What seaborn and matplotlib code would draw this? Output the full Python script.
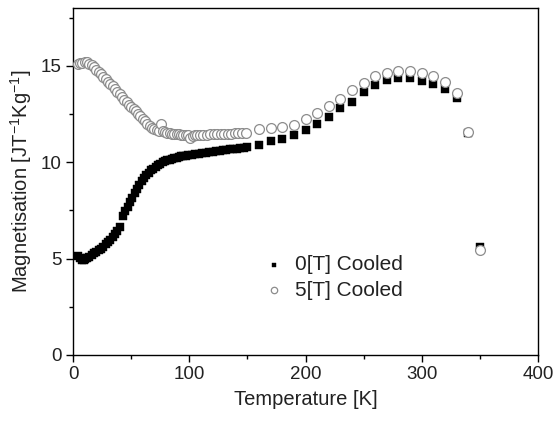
import matplotlib
matplotlib.use("Agg")
import matplotlib.pyplot as plt
from matplotlib.ticker import MultipleLocator
import seaborn as sns
import pandas as pd

# 0[T] cooled (filled squares)
temp_0T = [4.5, 6, 7.5, 9, 10.5, 12, 14, 16, 18, 20, 22, 24, 26, 28, 30, 32, 34, 36, 38, 40,
           43, 45, 47, 49, 51, 53, 55, 57, 59, 61, 63, 65, 67, 69, 71, 73, 75, 77, 79, 81,
           83, 85, 87, 89, 91, 93, 95, 97, 99, 102, 105, 108, 111, 114, 117, 120, 123, 126,
           129, 132, 135, 138, 141, 144, 147, 150,
           160, 170, 180, 190, 200, 210, 220, 230, 240, 250, 260, 270, 280, 290, 300, 310,
           320, 330, 340, 350]
mag_0T = [5.15, 5.02, 4.92, 4.94, 4.97, 5.02, 5.1, 5.18, 5.27, 5.35, 5.43, 5.52, 5.62, 5.73,
          5.84, 5.96, 6.1, 6.25, 6.42, 6.62,
          7.2, 7.45, 7.7, 7.93, 8.15, 8.38, 8.6, 8.82, 9.0, 9.17, 9.32, 9.45, 9.57, 9.67,
          9.77, 9.85, 9.93, 9.99, 10.05, 10.1, 10.14, 10.18, 10.21, 10.24, 10.27, 10.3,
          10.32, 10.34, 10.36, 10.39, 10.42, 10.45, 10.48, 10.5, 10.53, 10.55, 10.57, 10.6,
          10.62, 10.64, 10.66, 10.68, 10.7, 10.72, 10.74, 10.77,
          10.88, 11.1, 11.22, 11.4, 11.69, 12.0, 12.35, 12.81, 13.11, 13.66, 14.0, 14.25,
          14.37, 14.35, 14.23, 14.07, 13.78, 13.33, 11.49, 5.61]

# 5[T] cooled (open circles)
temp_5T = [4, 6, 8, 10, 12, 14, 16, 18, 20, 22, 24, 26, 28, 30, 32, 34, 36, 38, 40, 42, 44,
           46, 48, 50, 52, 54, 56, 58, 60, 62, 64, 66, 68, 70, 72, 74, 75.5, 77, 79, 81, 83,
           85, 87, 89, 91, 93, 95, 97, 99, 101, 103, 105, 107, 109, 112, 115, 118, 121, 124,
           127, 130, 133, 136, 139, 142, 145, 149,
           160, 170, 180, 190, 200, 210, 220, 230, 240, 250, 260, 270, 280, 290, 300, 310,
           320, 330, 340, 350]
mag_5T = [15.12, 15.14, 15.16, 15.18, 15.22, 15.12, 15.03, 14.92, 14.8, 14.68, 14.56, 14.42,
          14.3, 14.18, 14.06, 13.94, 13.8, 13.66, 13.52, 13.38, 13.25, 13.1, 12.96, 12.86,
          12.76, 12.65, 12.52, 12.38, 12.24, 12.12, 12.0, 11.9, 11.8, 11.72, 11.66, 11.62,
          11.98, 11.6, 11.56, 11.53, 11.5, 11.48, 11.46, 11.45, 11.44, 11.43, 11.42, 11.41,
          11.4, 11.26, 11.38, 11.4, 11.41, 11.42, 11.42, 11.43, 11.44, 11.44, 11.45, 11.45,
          11.46, 11.47, 11.48, 11.49, 11.5, 11.52, 11.54,
          11.7, 11.8, 11.85, 11.92, 12.25, 12.57, 12.9, 13.3, 13.73, 14.13, 14.46, 14.63,
          14.72, 14.72, 14.63, 14.47, 14.16, 13.6, 11.59, 5.44]

labels = ["0[T] Cooled", "5[T] Cooled"]
x_ticks = [0, 100, 200, 300, 400]
y_ticks = [0, 5, 10, 15]

sns.set_style("ticks")
plt.rcParams["font.family"] = ["Liberation Sans", "DejaVu Sans"]
plt.rcParams["mathtext.fontset"] = "custom"
plt.rcParams["mathtext.rm"] = "Liberation Sans"
plt.rcParams["mathtext.default"] = "regular"

TXT = "#222222"

df0 = pd.DataFrame({"T": temp_0T, "M": mag_0T})
df5 = pd.DataFrame({"T": temp_5T, "M": mag_5T})

fig = plt.figure(figsize=(5.58, 4.24), dpi=100)
ax = fig.add_axes([0.131, 0.163, 0.833, 0.818])

sns.scatterplot(data=df0, x="T", y="M", ax=ax, marker="s", s=30, color="black",
                edgecolor="black", linewidth=0.3, label=labels[0], zorder=3)
sns.scatterplot(data=df5, x="T", y="M", ax=ax, marker="o", s=50, facecolor="white",
                edgecolor="#8c8c8c", linewidth=0.9, label=labels[1], zorder=4)

ax.set_xlim(0, 400)
ax.set_ylim(0, 18)
ax.set_xticks(x_ticks)
ax.set_yticks(y_ticks)
ax.xaxis.set_minor_locator(MultipleLocator(50))
ax.yaxis.set_minor_locator(MultipleLocator(2.5))
ax.tick_params(which="major", direction="out", length=5, width=1, labelsize=13.5,
               color="black", labelcolor=TXT, top=False, right=False, pad=3)
ax.tick_params(which="minor", direction="out", length=3, width=1, color="black",
               top=False, right=False)
for sp in ax.spines.values():
    sp.set_visible(True)
    sp.set_linewidth(1)
    sp.set_color("black")

ax.set_xlabel("Temperature [K]", fontsize=14.5, labelpad=5, color=TXT)
ax.set_ylabel("Magnetisation [JT$^{-1}$Kg$^{-1}$]", fontsize=14.5, labelpad=5, color=TXT)

leg = ax.legend(loc="center left", bbox_to_anchor=(0.415, 0.223), frameon=False,
                fontsize=15, handlelength=0.8, handletextpad=0.6, borderpad=0,
                borderaxespad=0, labelspacing=0.3, markerscale=0.65)
for t in leg.get_texts():
    t.set_color(TXT)

fig.savefig("out.png", dpi=100)
